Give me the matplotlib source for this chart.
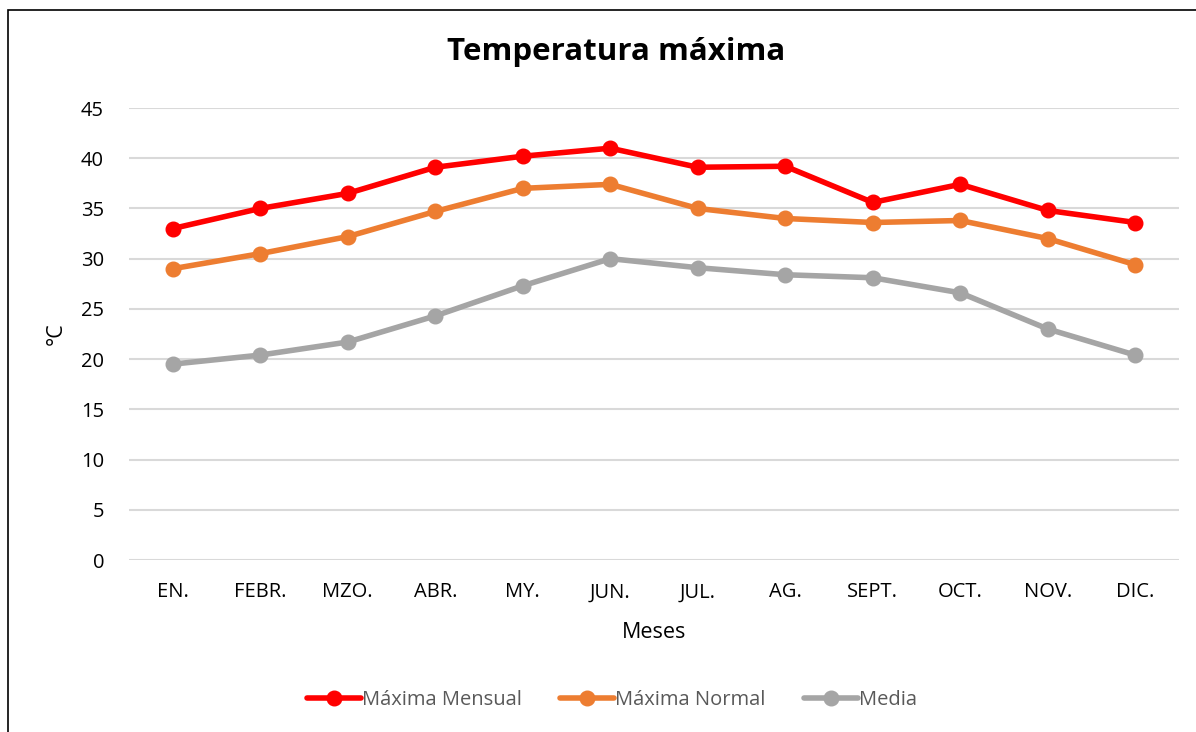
import matplotlib
matplotlib.use('Agg')
import matplotlib.pyplot as plt
from matplotlib.patches import Rectangle

meses = ['EN.', 'FEBR.', 'MZO.', 'ABR.', 'MY.', 'JUN.', 'JUL.', 'AG.', 'SEPT.', 'OCT.', 'NOV.', 'DIC.']
maxima_mensual = [33.0, 35.0, 36.5, 39.1, 40.2, 41.0, 39.1, 39.2, 35.6, 37.4, 34.8, 33.6]
maxima_normal = [29.0, 30.5, 32.2, 34.7, 37.0, 37.4, 35.0, 34.0, 33.6, 33.8, 32.0, 29.4]
media = [19.5, 20.4, 21.7, 24.3, 27.3, 30.0, 29.1, 28.4, 28.1, 26.6, 23.0, 20.4]
y_ticks = [0, 5, 10, 15, 20, 25, 30, 35, 40, 45]

plt.rcParams['font.family'] = ['Open Sans', 'DejaVu Sans']

fig = plt.figure(figsize=(11.96, 7.32), dpi=100)
ax = fig.add_axes([129 / 1196, 1 - 560 / 732, 1050 / 1196, 452 / 732])

x = list(range(len(meses)))
series = [
    (maxima_mensual, '#ff0000', 'Máxima Mensual'),
    (maxima_normal, '#ed7d31', 'Máxima Normal'),
    (media, '#a5a5a5', 'Media'),
]
for values, color, label in series:
    ax.plot(x, values, color=color, lw=4, marker='o', ms=10.5, label=label,
            solid_capstyle='round')

ax.set_xlim(-0.5, len(meses) - 0.5)
ax.set_ylim(0, 45)
ax.set_yticks(y_ticks)
ax.set_xticks(x)
ax.set_xticklabels(meses)
ax.tick_params(length=0, labelsize=14.5, pad=16)
ax.tick_params(axis='y', pad=18)
ax.grid(axis='y', color='#d9d9d9', lw=1.5)
ax.set_axisbelow(True)
for s in ax.spines.values():
    s.set_visible(False)

ax.set_xlabel('Meses', fontsize=15.5, labelpad=14)
ax.set_ylabel('°C', fontsize=15.5, labelpad=10)
fig.text(616 / 1196, 1 - 52 / 732, 'Temperatura máxima', ha='center', va='center',
         fontsize=22.5, fontweight='bold')

leg = fig.legend(loc='center', bbox_to_anchor=(612 / 1196, 1 - 700 / 732), ncol=3,
                 frameon=False, fontsize=14.5, handlelength=2.7, handletextpad=0.05,
                 columnspacing=1.9)
for t in leg.get_texts():
    t.set_color('#595959')

fig.patches.append(Rectangle((8 / 1196, -0.05), 1.2, 1 - 10 / 732 + 0.05,
                             transform=fig.transFigure, fill=False,
                             edgecolor='black', lw=1.2))

fig.savefig('out.png', dpi=100)
